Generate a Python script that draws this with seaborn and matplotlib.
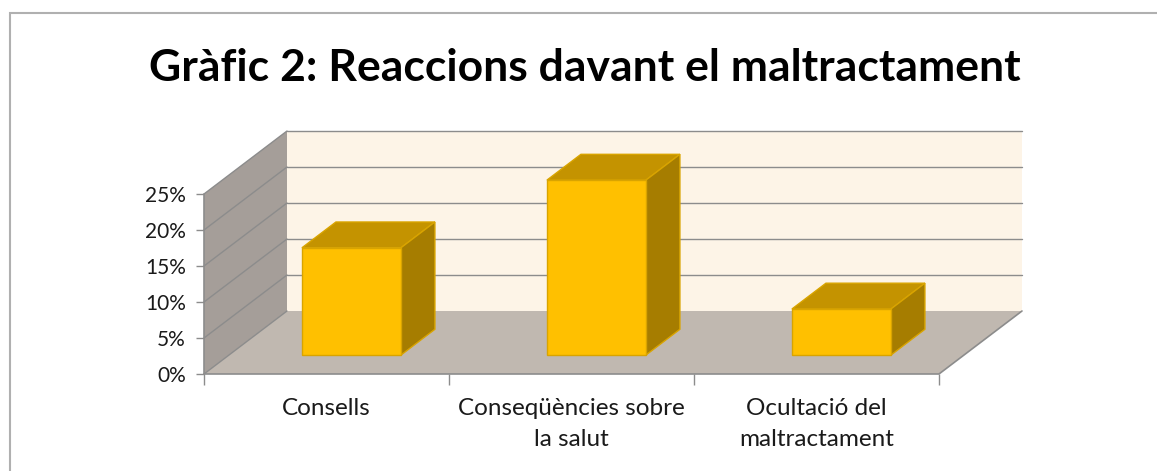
import numpy as np
import pandas as pd
import seaborn as sns
import matplotlib.pyplot as plt
from matplotlib.patches import Polygon, Rectangle

# data
categories = ["Consells", "Conseqüències sobre\nla salut", "Ocultació del\nmaltractament"]
values = [14.9, 24.3, 6.4]
y_ticks = [0, 5, 10, 15, 20, 25]
y_labels = ["0%", "5%", "10%", "15%", "20%", "25%"]
title = "Gràfic 2: Reaccions davant el maltractament"

df = pd.DataFrame({"categoria": categories, "valor": values})

sns.set_style("white")
plt.rcParams['font.family'] = ['Lato', 'DejaVu Sans']

W, H = 1157, 471
fig = plt.figure(figsize=(W / 100, H / 100), dpi=100)

# front plane of the 3d box, in pixels
fx0, fx1, fy0, fy1 = 204, 939, 374, 194
ax = fig.add_axes([fx0 / W, 1 - fy0 / H, (fx1 - fx0) / W, (fy0 - fy1) / H])
ax.set_xlim(-0.5, 2.5)
ax.set_ylim(0, 25)
for s in ax.spines.values():
    s.set_visible(False)
ax.patch.set_alpha(0)

# depth vector (full depth) in data units
DX = 83 / ((fx1 - fx0) / 3)
DY = 63 / ((fy0 - fy1) / 25)

grid_c = "#8c8c8c"
x_l, x_r = -0.5, 2.5

# side wall
ax.add_patch(Polygon([(x_l, 0), (x_l, 25), (x_l + DX, 25 + DY), (x_l + DX, DY)],
                     closed=True, facecolor="#a59e99", edgecolor="none", clip_on=False, zorder=1))
# back wall
ax.add_patch(Polygon([(x_l + DX, DY), (x_r + DX, DY), (x_r + DX, 25 + DY), (x_l + DX, 25 + DY)],
                     closed=True, facecolor="#fdf4e7", edgecolor="none", clip_on=False, zorder=1))
# floor
ax.add_patch(Polygon([(x_l, 0), (x_r, 0), (x_r + DX, DY), (x_l + DX, DY)],
                     closed=True, facecolor="#c0b8b0", edgecolor="none", clip_on=False, zorder=2))

# gridlines on the walls
for t in y_ticks:
    ax.plot([x_l, x_l + DX], [t, t + DY], color=grid_c, lw=1.0, clip_on=False, zorder=3)
    if t > 0:
        ax.plot([x_l + DX, x_r + DX], [t + DY, t + DY], color=grid_c, lw=1.0, clip_on=False, zorder=3)
# box edges
ax.plot([x_l, x_l], [0, 25], color=grid_c, lw=1.2, clip_on=False, zorder=3)
ax.plot([x_l, x_r, x_r + DX], [0, 0, DY], color=grid_c, lw=1.2, clip_on=False, zorder=3)

# bars: front faces from seaborn, then top and side faces
sns.barplot(data=df, x="categoria", y="valor", color="#ffc000", width=0.404,
            saturation=1, ax=ax, zorder=5)
f_front, f_back = 0.30, 0.71
depth = f_back - f_front
edge = "#d9a400"
for p, v in zip(ax.patches[-len(values):], values):
    x0 = p.get_x() + f_front * DX
    w = p.get_width()
    y0 = f_front * DY
    p.set_x(x0)
    p.set_y(y0)
    p.set_height(v)
    p.set_edgecolor(edge)
    p.set_linewidth(1.0)
    p.set_clip_on(False)
    p.set_zorder(6)
    ddx, ddy = depth * DX, depth * DY
    top = [(x0, y0 + v), (x0 + w, y0 + v), (x0 + w + ddx, y0 + v + ddy), (x0 + ddx, y0 + v + ddy)]
    side = [(x0 + w, y0), (x0 + w, y0 + v), (x0 + w + ddx, y0 + v + ddy), (x0 + w + ddx, y0 + ddy)]
    ax.add_patch(Polygon(top, closed=True, facecolor="#c49300", edgecolor=edge, lw=1.0,
                         clip_on=False, zorder=5))
    ax.add_patch(Polygon(side, closed=True, facecolor="#a67d00", edgecolor=edge, lw=1.0,
                         clip_on=False, zorder=5))

# axes ticks and labels
txt_c = "#1a1a1a"
ax.set_yticks(y_ticks)
ax.set_yticklabels(y_labels, fontsize=15, color=txt_c)
ax.tick_params(axis="y", left=True, length=6, width=1, color=grid_c, pad=7)
ax.set_xticks([0, 1, 2])
ax.set_xticklabels(categories, fontsize=17.5, linespacing=1.6, va="top", color=txt_c)
ax.tick_params(axis="x", length=0, pad=17)
ax.set_xticks([-0.5, 0.5, 1.5, 2.5], minor=True)
ax.tick_params(axis="x", which="minor", bottom=True, length=8, width=1, color=grid_c)
ax.set_xlabel("")
ax.set_ylabel("")

# title and chart border
fig.text(585 / W, 1 - 68 / H, title, ha="center", va="center", fontsize=32,
         fontweight="bold", color="black")
fig.patches.append(Rectangle((10 / W, -0.1), 1.2, 1.1 - 13 / H, transform=fig.transFigure,
                             fill=False, edgecolor="#b0b0b0", lw=1.5, figure=fig))

fig.savefig("out.png", dpi=100)
